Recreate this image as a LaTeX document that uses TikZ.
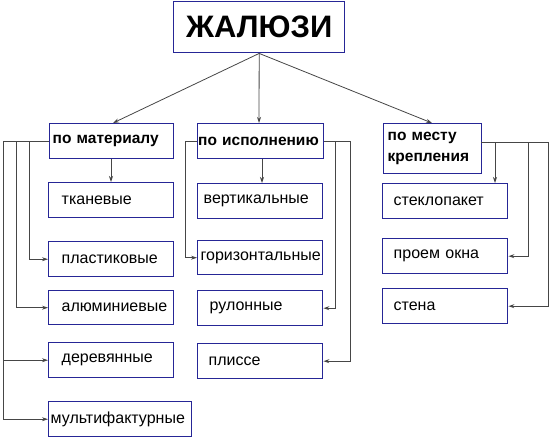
\documentclass[tikz,border=0pt]{standalone}
\usepackage{fontspec}
\setmainfont{Liberation Sans}
\usetikzlibrary{arrows.meta}
\definecolor{boxc}{RGB}{38,38,150}
\definecolor{linec}{RGB}{70,70,70}
\tikzset{
  bx/.style={draw=boxc, line width=1.4pt, anchor=north west, inner ysep=0pt, align=left, font=\fontsize{16}{18}\selectfont},
  hd/.style={bx, font=\bfseries\fontsize{15.5}{21}\selectfont},
  ln/.style={draw=linec, line width=0.8pt},
  arr/.style={ln, -{Stealth[length=6pt,width=4pt]}},
}
% #1 name, #2 x, #3 y, #4 w, #5 h, #6 pad, #7 text, #8 style
\newcommand{\mybox}[8]{%
  \node[#8, minimum height=#5pt, text width=#4pt-2*#6pt, inner xsep=#6pt] (#1) at (#2,#3) {#7};}
\begin{document}
\begin{tikzpicture}[x=1pt,y=-1pt]
\useasboundingbox (0,0) rectangle (550,437);
\node[draw=boxc, line width=1.4pt, minimum width=171pt, minimum height=51pt, anchor=north west, inner sep=0pt,
  font=\bfseries\fontsize{31}{36}\selectfont] (top) at (173,1) {ЖАЛЮЗИ};
\mybox{mat}{49}{123}{124}{35}{3}{по материалу}{hd}
\mybox{isp}{197}{123}{126}{35}{0.5}{по исполнению}{hd}
\mybox{mes}{383}{123}{98}{50}{4}{по месту\\крепления}{hd}
\mybox{tkan}{48}{182}{125}{35}{13}{тканевые}{bx}
\mybox{plast}{48}{241}{125}{35}{13}{пластиковые}{bx}
\mybox{alum}{48}{290}{125}{34}{13}{алюминиевые}{bx}
\mybox{derev}{48}{342}{125}{35}{13}{деревянные}{bx}
\mybox{multi}{48}{401}{143}{35}{2}{мультифактурные}{bx}
\mybox{vert}{197}{183}{125}{35}{6}{вертикальные}{bx}
\mybox{horiz}{197}{240}{125}{34}{3}{горизонтальные}{bx}
\mybox{rul}{197}{290}{125}{35}{12}{рулонные}{bx}
\mybox{pliss}{197}{343}{125}{35}{11}{плиссе}{bx}
\mybox{stek}{382}{183}{125}{35}{11}{стеклопакет}{bx}
\mybox{proem}{382}{238}{125}{35}{11}{проем окна}{bx}
\mybox{stena}{382}{288}{125}{35}{11}{стена}{bx}
% top arrows
\draw[arr] (top.south) -- (mat.north -| 113,0);
\draw[arr] (top.south) -- (isp.north -| 259,0);
\draw[arr] (top.south) -- (mes.north -| 432,0);
% material
\coordinate (m0) at (3,0);
\coordinate (m1) at (16,0);
\coordinate (m2) at (29,0);
\draw[ln] (mat.west) -- (mat.west -| m0);
\draw[arr] (mat.south -| 111,0) -- (tkan.north -| 111,0);
\draw[arr] (mat.west -| m2) |- (plast.west);
\draw[arr] (mat.west -| m1) |- (alum.west);
\draw[arr] (mat.west -| m0) |- (derev.west);
\draw[arr] (mat.west -| m0) |- (multi.west);
% execution
\coordinate (i0) at (185,0);
\coordinate (i1) at (335,0);
\coordinate (i2) at (350,0);
\draw[arr] (isp.west) -- (isp.west -| i0) |- (horiz.west);
\draw[arr] (isp.south -| 262,0) -- (vert.north -| 262,0);
\draw[ln] (isp.east) -- (isp.east -| i2);
\draw[arr] (isp.east -| i1) |- (rul.east);
\draw[arr] (isp.east -| i2) |- (pliss.east);
% mounting
\coordinate (p0) at (495,0);
\coordinate (p1) at (528,0);
\coordinate (p2) at (548,0);
\coordinate (mr) at (481,142);
\draw[ln] (mr) -- (mr -| p2);
\draw[arr] (mr -| p0) -- (stek.north -| p0);
\draw[arr] (mr -| p1) |- (proem.east);
\draw[arr] (mr -| p2) |- (stena.east);
\end{tikzpicture}
\end{document}
